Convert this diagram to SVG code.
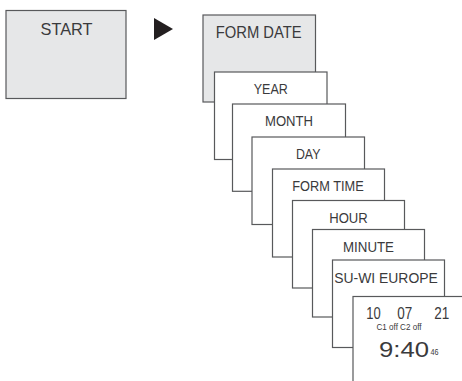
<svg xmlns="http://www.w3.org/2000/svg" width="462" height="381" viewBox="0 0 462 381">
<style>
.box{fill:#ffffff;stroke:#58595b;stroke-width:1.2}
.grey{fill:#e6e7e8}
.t{font-family:"Liberation Sans",Arial,sans-serif;fill:#3a3a3c;text-anchor:middle}
.big{font-size:17px}
.mid{font-size:15px}
</style>
<rect width="462" height="381" fill="#ffffff"/>
<g id="start">
<rect class="box grey" x="6" y="10.5" width="120" height="88"/>
<text class="t big" x="66.5" y="35" textLength="52" lengthAdjust="spacingAndGlyphs">START</text>
</g>
<g id="connectors">
<polygon points="154,18 173,29 154,40" fill="#231f20"/>
</g>
<g id="form-date">
<rect class="box grey" x="203" y="15" width="112.5" height="87"/>
<text class="t big" x="258.7" y="37.8" textLength="86" lengthAdjust="spacingAndGlyphs">FORM DATE</text>
</g>
<g id="year">
<rect class="box" x="214.5" y="72" width="112.5" height="87.5"/>
<text class="t mid" x="270.8" y="94" textLength="34" lengthAdjust="spacingAndGlyphs">YEAR</text>
</g>
<g id="month">
<rect class="box" x="232.5" y="104" width="113" height="87.3"/>
<text class="t mid" x="289" y="125.8" textLength="48" lengthAdjust="spacingAndGlyphs">MONTH</text>
</g>
<g id="day">
<rect class="box" x="252" y="137" width="112.5" height="87.5"/>
<text class="t mid" x="308.2" y="158.8" textLength="24.5" lengthAdjust="spacingAndGlyphs">DAY</text>
</g>
<g id="form-time">
<rect class="box" x="272.5" y="169" width="112" height="88"/>
<text class="t mid" x="328" y="190.8" textLength="71.5" lengthAdjust="spacingAndGlyphs">FORM TIME</text>
</g>
<g id="hour">
<rect class="box" x="292.5" y="200.5" width="112" height="87.5"/>
<text class="t mid" x="348.5" y="223" textLength="38.5" lengthAdjust="spacingAndGlyphs">HOUR</text>
</g>
<g id="minute">
<rect class="box" x="312.5" y="229.5" width="112" height="87.5"/>
<text class="t mid" x="368.5" y="252.3" textLength="51" lengthAdjust="spacingAndGlyphs">MINUTE</text>
</g>
<g id="su-wi-europe">
<rect class="box" x="332.5" y="260" width="112" height="87.5"/>
<text class="t mid" x="386" y="282.6" textLength="103.5" lengthAdjust="spacingAndGlyphs">SU-WI EUROPE</text>
</g>
<g id="display">
<rect class="box" x="353" y="296.5" width="112" height="100"/>
<text class="t" style="font-size:16px" x="373.5" y="319.3" textLength="14.4" lengthAdjust="spacingAndGlyphs">10</text>
<text class="t" style="font-size:16px" x="404.8" y="319.3" textLength="15" lengthAdjust="spacingAndGlyphs">07</text>
<text class="t" style="font-size:16px" x="441.8" y="319.3" textLength="15" lengthAdjust="spacingAndGlyphs">21</text>
<text class="t" style="font-size:9px" x="399" y="329.5" textLength="45" lengthAdjust="spacingAndGlyphs">C1 off C2 off</text>
<text class="t" style="font-size:22px" x="404" y="357.3" textLength="50" lengthAdjust="spacingAndGlyphs">9:40</text>
<text class="t" style="font-size:9px;text-anchor:start" x="430.5" y="355" textLength="8" lengthAdjust="spacingAndGlyphs">46</text>
</g>
</svg>
